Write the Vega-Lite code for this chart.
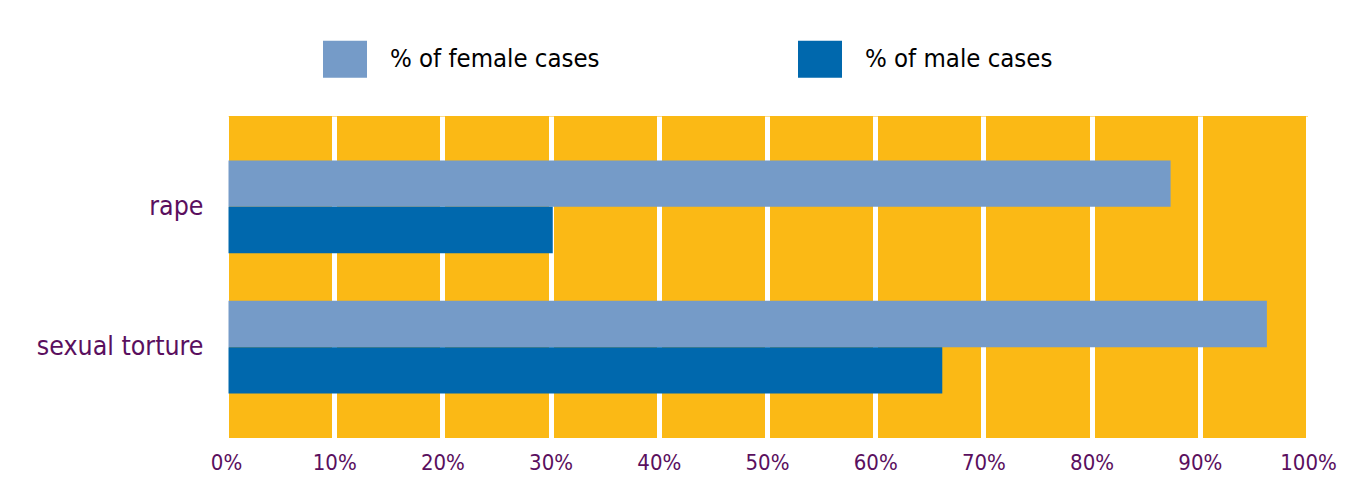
{
  "$schema": "https://vega.github.io/schema/vega-lite/v6.json",
  "width": 1082,
  "height": 322,
  "autosize": {"type": "none"},
  "padding": {"left": 226, "top": 116, "right": 43, "bottom": 52},
  "background": "white",
  "config": {
    "view": {"fill": "#FBB915", "stroke": null},
    "font": "DejaVu Sans Condensed, DejaVu Sans"
  },
  "datasets": {
    "bars": [
      {"type": "rape", "group": "% of female cases", "pct": 87.3},
      {"type": "rape", "group": "% of male cases", "pct": 30.2},
      {"type": "sexual torture", "group": "% of female cases", "pct": 96.2},
      {"type": "sexual torture", "group": "% of male cases", "pct": 66.2}
    ],
    "edge": [{"pct": 0}]
  },
  "layer": [
    {
      "data": {"name": "bars"},
      "mark": {"type": "bar", "cornerRadius": 0},
      "encoding": {
        "y": {
          "field": "type",
          "type": "nominal",
          "sort": ["rape", "sexual torture"],
          "scale": {"paddingInner": 0.339, "paddingOuter": 0.317},
          "axis": {
            "title": null,
            "domain": false,
            "ticks": false,
            "labelPadding": 23,
            "labelFontSize": 26.5,
            "labelColor": "#5A0F5E",
            "labelFont": "DejaVu Sans Condensed, DejaVu Sans"
          }
        },
        "yOffset": {
          "field": "group",
          "type": "nominal",
          "sort": ["% of female cases", "% of male cases"],
          "scale": {"paddingInner": 0, "paddingOuter": 0}
        },
        "x": {
          "field": "pct",
          "type": "quantitative",
          "scale": {"domain": [0, 100], "nice": false},
          "axis": {
            "title": null,
            "values": [0, 10, 20, 30, 40, 50, 60, 70, 80, 90, 100],
            "labelExpr": "datum.value + '%'",
            "domain": false,
            "ticks": false,
            "grid": true,
            "gridColor": "white",
            "gridWidth": 5,
            "gridOpacity": 1,
            "labelPadding": 14,
            "labelFontSize": 22,
            "labelColor": "#5A0F5E",
            "labelFont": "DejaVu Sans Condensed, DejaVu Sans",
            "labelOverlap": false,
            "labelFlush": false
          }
        },
        "color": {
          "field": "group",
          "type": "nominal",
          "scale": {
            "domain": ["% of female cases", "% of male cases"],
            "range": ["#759BC8", "#0068AD"]
          },
          "legend": {
            "title": null,
            "orient": "none",
            "legendX": 97,
            "legendY": -79,
            "direction": "horizontal",
            "padding": 0,
            "symbolType": "M-1,-0.84H1V0.84H-1Z",
            "symbolSize": 1936,
            "symbolStrokeWidth": 0,
            "symbolOpacity": 1,
            "labelOffset": 23,
            "labelFontSize": 25.5,
            "labelColor": "black",
            "labelFont": "DejaVu Sans Condensed, DejaVu Sans",
            "labelLimit": 400,
            "columnPadding": 198
          }
        }
      }
    },
    {
      "data": {"name": "edge"},
      "mark": {"type": "rule", "color": "white", "strokeWidth": 5},
      "encoding": {
        "x": {"field": "pct", "type": "quantitative"}
      }
    }
  ]
}
